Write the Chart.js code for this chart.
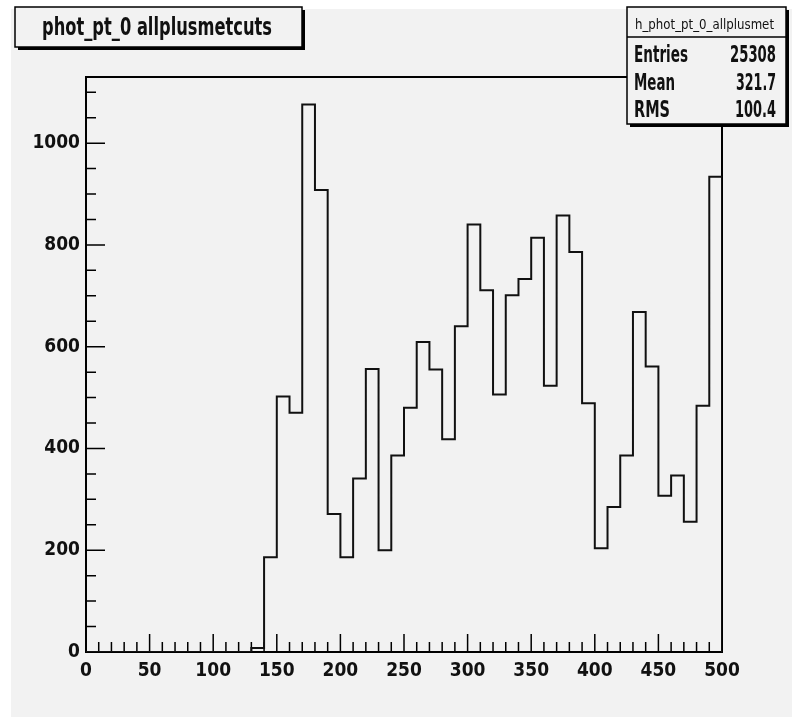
<!DOCTYPE html>
<html>
<head>
<meta charset="utf-8">
<script src="https://cdn.jsdelivr.net/npm/chart.js@4.4.1/dist/chart.umd.min.js"></script>
<style>
html, body { margin: 0; padding: 0; background: #fff; }
#wrap { width: 792px; height: 718px; }
</style>
</head>
<body>
<div id="wrap"><canvas id="histCanvas" width="792" height="718"></canvas></div>
<script>
// low edge of each 10-wide bin and its content
const binEdges = [0, 10, 20, 30, 40, 50, 60, 70, 80, 90,
                  100, 110, 120, 130, 140, 150, 160, 170, 180, 190,
                  200, 210, 220, 230, 240, 250, 260, 270, 280, 290,
                  300, 310, 320, 330, 340, 350, 360, 370, 380, 390,
                  400, 410, 420, 430, 440, 450, 460, 470, 480, 490];
const binCounts = [0, 0, 0, 0, 0, 0, 0, 0, 0, 0,
                   0, 0, 0, 8, 186, 502, 470, 1076, 908, 271,
                   186, 341, 556, 200, 386, 480, 609, 555, 418, 640,
                   840, 711, 506, 701, 733, 814, 523, 858, 786, 489,
                   204, 285, 386, 668, 561, 307, 347, 256, 484, 934];
const xTickValues = [0, 50, 100, 150, 200, 250, 300, 350, 400, 450, 500];
const yTickValues = [0, 200, 400, 600, 800, 1000];
const xMax = 500;
const yMax = 1130;

const histTitle = 'phot_pt_0 allplusmetcuts';
const statsName = 'h_phot_pt_0_allplusmet';
const statsLabels = ['Entries', 'Mean', 'RMS'];
const statsValues = ['25308', '321.7', '100.4'];

const FONT = "'Liberation Sans Narrow', 'DejaVu Sans Condensed', 'Liberation Sans', sans-serif";

// step outline: each point starts a bin, last one closes the histogram at xMax
const stepPoints = binEdges.map((x, i) => ({ x: x, y: binCounts[i] }));
stepPoints.push({ x: xMax, y: 0 });

// squeeze text horizontally so it takes the given width (ROOT text is condensed)
function fitText(ctx, text, x, y, targetW, size, weight, align) {
    ctx.save();
    ctx.font = weight + ' ' + size + 'px ' + FONT;
    const w = ctx.measureText(text).width;
    ctx.translate(x, y);
    ctx.scale(targetW / w, 1);
    ctx.textAlign = align;
    ctx.textBaseline = 'alphabetic';
    ctx.fillStyle = '#111';
    ctx.fillText(text, 0, 0);
    ctx.restore();
}

function shadowBox(ctx, x, y, w, h) {
    ctx.fillStyle = '#000';
    ctx.fillRect(x + 3, y + 3, w, h);
    ctx.fillStyle = '#f2f2f2';
    ctx.fillRect(x, y, w, h);
    ctx.strokeStyle = '#000';
    ctx.lineWidth = 1.5;
    ctx.strokeRect(x, y, w, h);
}

const rootFrame = {
    id: 'rootFrame',
    beforeDraw(chart) {
        const ctx = chart.ctx;
        ctx.save();
        ctx.fillStyle = '#f2f2f2';
        ctx.fillRect(11, 9, 781, 708);
        ctx.restore();
    },
    beforeDatasetsDraw(chart) {
        const ctx = chart.ctx;
        const xs = chart.scales.x, ys = chart.scales.y;
        const a = chart.chartArea;
        ctx.save();
        ctx.strokeStyle = '#000';
        ctx.lineWidth = 1.5;
        ctx.beginPath();
        for (let v = 0; v <= xMax; v += 10) {
            const px = xs.getPixelForValue(v);
            const len = v % 50 === 0 ? 18 : 10;
            ctx.moveTo(px, a.bottom);
            ctx.lineTo(px, a.bottom - len);
        }
        for (let v = 0; v <= yMax; v += 50) {
            const py = ys.getPixelForValue(v);
            const len = v % 200 === 0 ? 19 : 10;
            ctx.moveTo(a.left, py);
            ctx.lineTo(a.left + len, py);
        }
        ctx.stroke();
        ctx.lineWidth = 2;
        ctx.strokeRect(a.left, a.top, a.right - a.left, a.bottom - a.top);
        ctx.restore();
    },
    afterDraw(chart) {
        const ctx = chart.ctx;
        ctx.save();
        // title box
        shadowBox(ctx, 15, 7, 287, 40);
        fitText(ctx, histTitle, 42, 35, 230, 25, 'bold', 'left');
        // stats box
        shadowBox(ctx, 627, 7, 159, 117);
        ctx.beginPath();
        ctx.moveTo(627, 37);
        ctx.lineTo(786, 37);
        ctx.stroke();
        fitText(ctx, statsName, 635, 29, 139, 14, 'normal', 'left');
        const labelW = [54, 41, 36], valueW = [46, 40, 41], base = [62, 90, 117];
        statsLabels.forEach((t, i) => {
            fitText(ctx, t, 634, base[i], labelW[i], 23, 'bold', 'left');
            fitText(ctx, statsValues[i], 776, base[i], valueW[i], 23, 'bold', 'right');
        });
        ctx.restore();
    }
};

const tickFont = { family: FONT, size: 19, weight: 'bold' };

const ctx = document.getElementById('histCanvas').getContext('2d');
new Chart(ctx, {
    type: 'line',
    data: {
        datasets: [{
            data: stepPoints,
            stepped: 'before',
            borderColor: '#111',
            borderWidth: 2,
            pointRadius: 0,
            fill: false
        }]
    },
    options: {
        responsive: false,
        animation: false,
        layout: { padding: { top: 77, right: 70, left: 0, bottom: 0 } },
        plugins: { legend: { display: false }, tooltip: { enabled: false } },
        scales: {
            x: {
                type: 'linear',
                min: 0,
                max: xMax,
                afterBuildTicks: s => { s.ticks = xTickValues.map(v => ({ value: v })); },
                afterFit: s => { s.height = 66; },
                grid: { display: false, drawTicks: false },
                border: { display: false },
                ticks: {
                    font: tickFont,
                    color: '#111',
                    padding: 8,
                    maxRotation: 0,
                    autoSkip: false,
                    callback: v => String(v)
                }
            },
            y: {
                type: 'linear',
                min: 0,
                max: yMax,
                afterBuildTicks: s => { s.ticks = yTickValues.map(v => ({ value: v })); },
                afterFit: s => { s.width = 86; },
                grid: { display: false, drawTicks: false },
                border: { display: false },
                ticks: {
                    font: tickFont,
                    color: '#111',
                    padding: 6,
                    callback: v => String(v)
                }
            }
        }
    },
    plugins: [rootFrame]
});
</script>
</body>
</html>
